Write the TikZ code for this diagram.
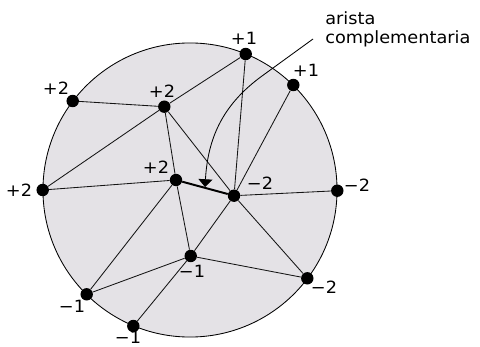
\documentclass[tikz,border=0pt]{standalone}
\usepackage{fontspec}
\usepackage{xcolor}
\usepackage{tikz}
\usetikzlibrary{arrows.meta}
\newfontfamily\lblfont[FakeStretch=1.05]{DejaVu Sans}
\definecolor{diskgray}{RGB}{228,226,230}
\definecolor{mydark}{RGB}{20,20,20}
\tikzset{
  vertex/.style={circle, fill=black, inner sep=0pt, minimum size=0.31cm},
  vlabel/.style={inner sep=0pt, font=\lblfont\fontsize{12}{13.5}\selectfont},
  link/.style={line width=0.6pt, color=mydark},
  complink/.style={line width=1.4pt, color=black},
  annot/.style={-{Triangle[length=5.5pt, width=10pt]}, line width=0.6pt, color=black}
}

\begin{document}
\begin{tikzpicture}[x=0.025cm, y=-0.025cm]
  \useasboundingbox (0, 0) rectangle (480, 347);

  % --- Disk ---
  \draw[fill=diskgray, line width=0.6pt] (190, 190) circle [radius=3.675cm];

  % --- Vertices ---
  \node[vertex] (vtop)   at (245.7, 54)  {};
  \node[vertex] (vtr)    at (293.3, 85)  {};
  \node[vertex] (vtl)    at (72.7, 101)  {};
  \node[vertex] (vin)    at (164.3, 106.7) {};
  \node[vertex] (vleft)  at (42.7, 190)  {};
  \node[vertex] (vmid)   at (176, 180)   {};
  \node[vertex] (vctr)   at (234, 195.7) {};
  \node[vertex] (vright) at (337.3, 190.7) {};
  \node[vertex] (vlow)   at (190.7, 256) {};
  \node[vertex] (vbr)    at (307.3, 278.3) {};
  \node[vertex] (vbl)    at (86.7, 294.3) {};
  \node[vertex] (vbot)   at (133.3, 326) {};

  % --- Edges ---
  \draw[link] (vtop) -- (vin);
  \draw[link] (vtop) -- (vctr);
  \draw[link] (vtr) -- (vctr);
  \draw[link] (vtl) -- (vin);
  \draw[link] (vin) -- (vleft);
  \draw[link] (vin) -- (vmid);
  \draw[link] (vin) -- (vctr);
  \draw[link] (vleft) -- (vmid);
  \draw[link] (vmid) -- (vbl);
  \draw[link] (vmid) -- (vlow);
  \draw[link] (vctr) -- (vright);
  \draw[link] (vctr) -- (vlow);
  \draw[link] (vctr) -- (vbr);
  \draw[link] (vlow) -- (vbl);
  \draw[link] (vlow) -- (vbot);
  \draw[link] (vlow) -- (vbr);
  \draw[complink] (vmid) -- (vctr);

  % --- Charges ---
  \node[vlabel] (ltop)   at (244, 38)  {+1};
  \node[vlabel] (ltr)    at (306, 70)  {+1};
  \node[vlabel] (ltl)    at (56, 88)   {+2};
  \node[vlabel] (lin)    at (162, 91)  {+2};
  \node[vlabel] (lleft)  at (19, 190)  {+2};
  \node[vlabel] (lmid)   at (156, 167) {+2};
  \node[vlabel] (lctr)   at (260, 183) {−2};
  \node[vlabel] (lright) at (357, 185) {−2};
  \node[vlabel] (llow)   at (192, 271) {−1};
  \node[vlabel] (lbr)    at (324, 287) {−2};
  \node[vlabel] (lbl)    at (72, 306)  {−1};
  \node[vlabel] (lbot)   at (128, 337) {−1};

  % --- Annotation ---
  \node[vlabel, anchor=north west, align=left] (note) at (325, 11)
    {arista\\complementaria};
  \coordinate (notept) at (313, 39);
  \coordinate (arrtip) at (205, 187);
  \draw[annot] (notept) -- (262, 76)
    .. controls (225, 103) and (208, 135) .. (arrtip);
\end{tikzpicture}
\end{document}
